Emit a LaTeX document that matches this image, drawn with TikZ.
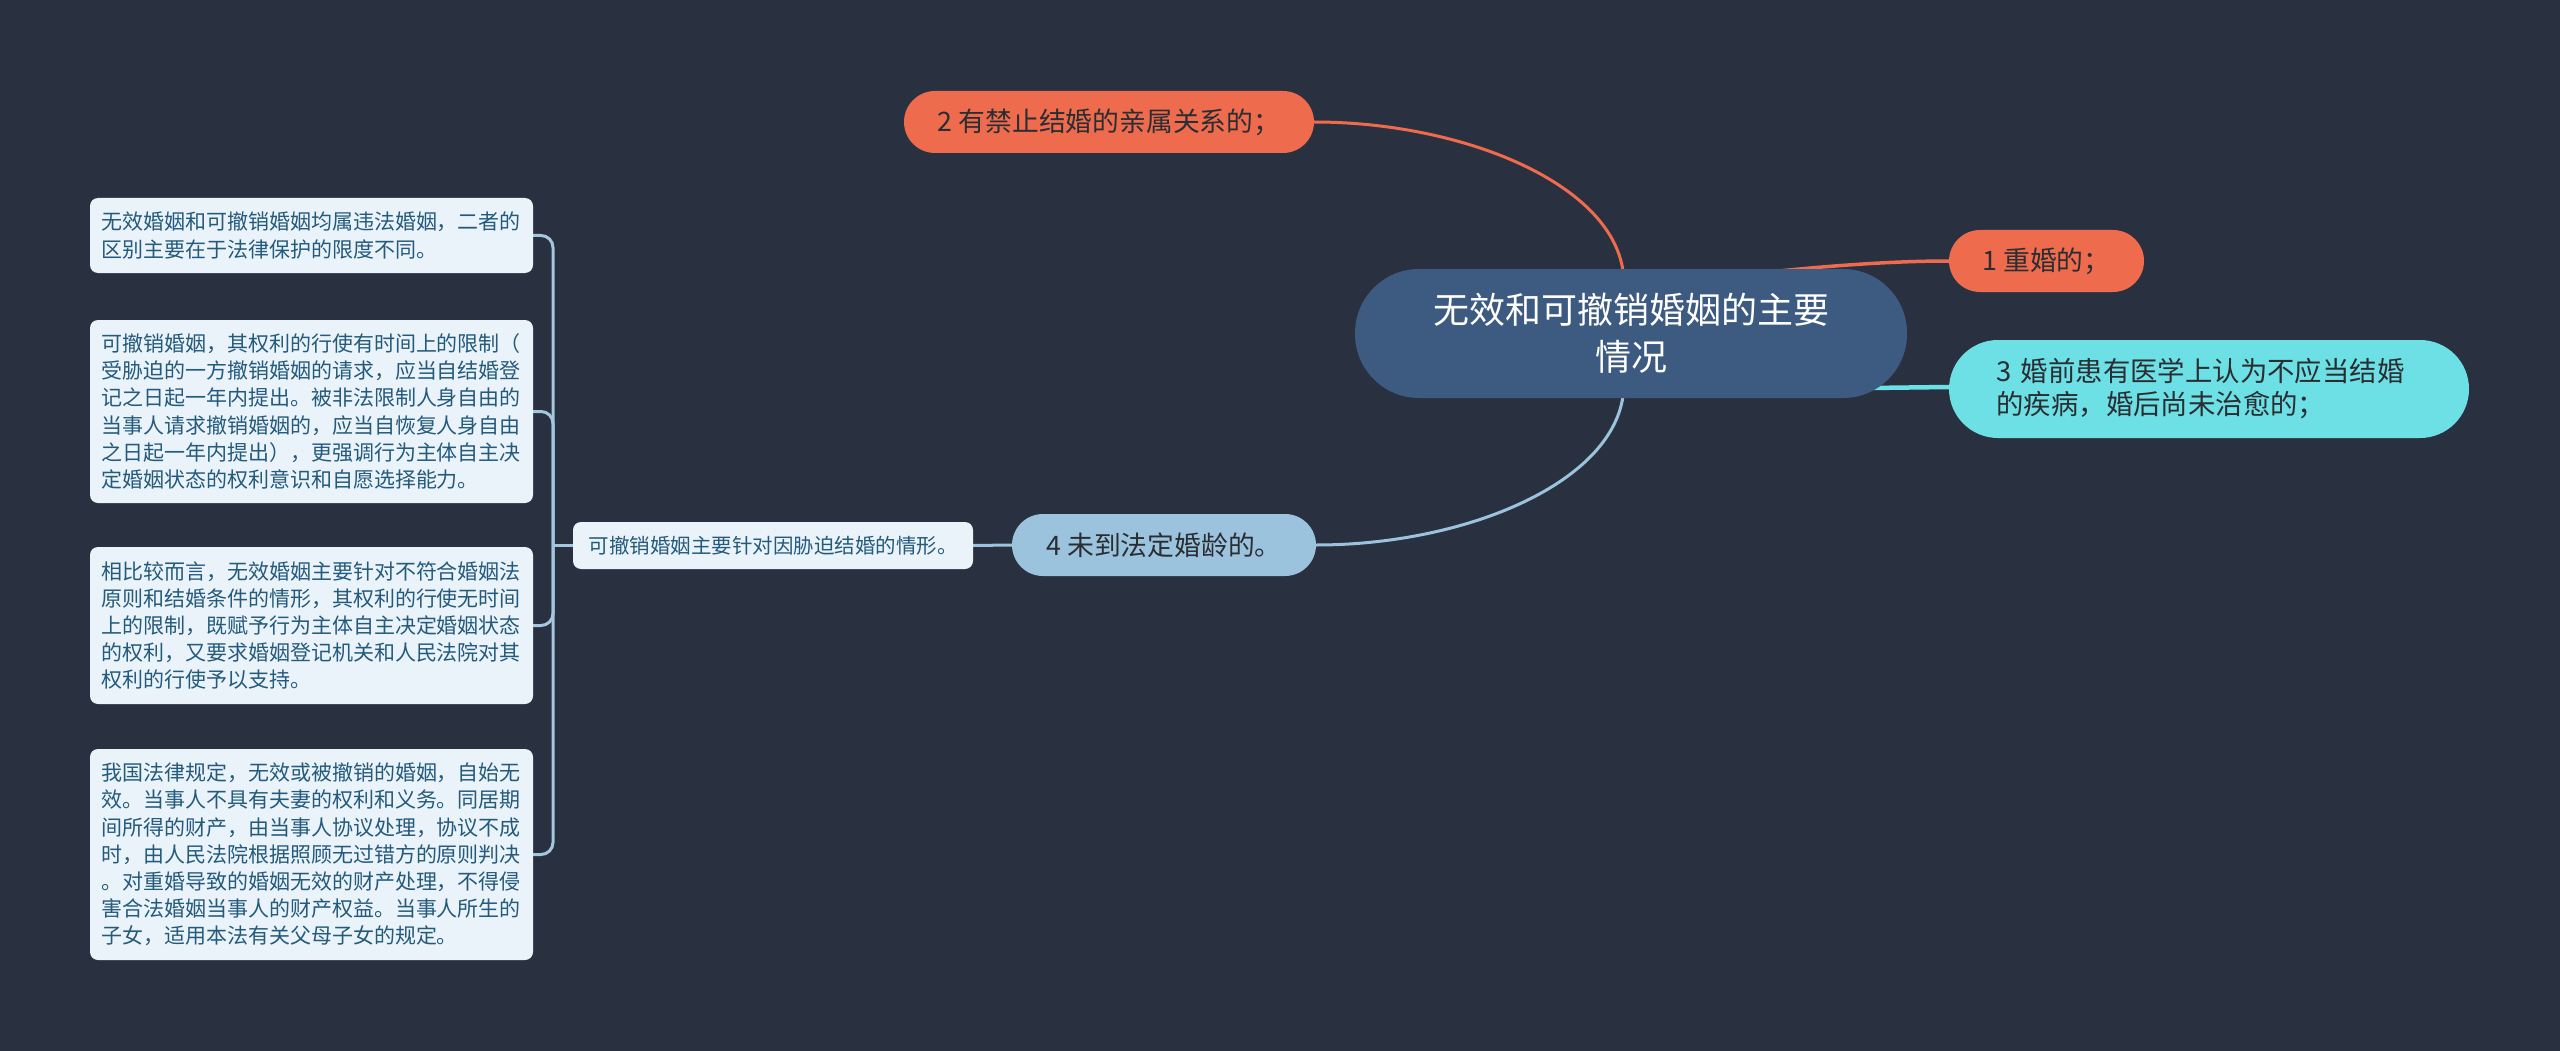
\documentclass[tikz,border=0pt]{standalone}
\usepackage{fontspec}
\setmainfont{Noto Sans CJK SC}
\pgfdeclarelayer{bg}
\pgfsetlayers{bg,main}
\definecolor{bgc}{HTML}{293140}
\definecolor{cnode}{HTML}{3D5A80}
\definecolor{orng}{HTML}{EE6B4D}
\definecolor{cyn}{HTML}{6CE0E4}
\definecolor{lblue}{HTML}{9CC3DD}
\definecolor{boxfill}{HTML}{EAF3F9}
\definecolor{boxtext}{HTML}{245A7C}
\definecolor{brk}{HTML}{A5C6DF}
\definecolor{dtext}{HTML}{2A2E33}
\begin{document}
\begin{tikzpicture}[x=1pt,y=-1pt,
  every node/.style={inner sep=0pt},
  centernode/.style={fill=cnode, text=white, minimum width=552pt, minimum height=129pt,
    rounded corners=64pt, align=center, font=\fontsize{36}{47}\selectfont},
  pill/.style={minimum height=62pt, rounded corners=31pt, text=dtext,
    font=\fontsize{26.8}{33}\selectfont},
  leftbox/.style={fill=boxfill, rounded corners=8pt, text=boxtext, text width=421pt,
    align=left, inner xsep=11pt, font=\fontsize{21}{27.2}\selectfont},
  smallbox/.style={fill=boxfill, rounded corners=8pt, text=boxtext, minimum width=400pt,
    minimum height=47pt, font=\fontsize{20.5}{25}\selectfont},
  orangeline/.style={draw=orng, line width=3pt},
  blueline/.style={draw=lblue, line width=3pt},
  cyanline/.style={draw=cyn, line width=4.5pt},
  bracket/.style={draw=brk, line width=3pt}]
\begin{pgfonlayer}{bg}
\fill[bgc] (0,0) rectangle (2560,1051);
\end{pgfonlayer}
\useasboundingbox (0,0) rectangle (2560,1051);

% nodes
\node[centernode] (c) at (1631,333.5) {无效和可撤销婚姻的主要\\情况};
\node[pill, fill=orng, minimum width=410pt] (n2) at (1109,122) {2 有禁止结婚的亲属关系的；};
\node[pill, fill=orng, minimum width=195pt] (n1) at (2046.5,261) {1 重婚的；};
\node[pill, fill=cyn, minimum width=520pt, minimum height=98pt, rounded corners=49pt, text width=425pt, align=left, font=\fontsize{27.4}{33}\selectfont] (n3) at (2209,389) {3 婚前患有医学上认为不应当结婚\\的疾病，婚后尚未治愈的；};
\node[pill, fill=lblue, minimum width=304pt] (n4) at (1164,545) {4 未到法定婚龄的。};
\node[smallbox] (sb) at (773,545.5) {可撤销婚姻主要针对因胁迫结婚的情形。};

\node[leftbox, minimum height=75pt] (b1) at (311.5,235.5) {无效婚姻和可撤销婚姻均属违法婚姻，二者的\\区别主要在于法律保护的限度不同。};
\node[leftbox, minimum height=183pt] (b2) at (311.5,411.5) {可撤销婚姻，其权利的行使有时间上的限制（\\受胁迫的一方撤销婚姻的请求，应当自结婚登\\记之日起一年内提出。被非法限制人身自由的\\当事人请求撤销婚姻的，应当自恢复人身自由\\之日起一年内提出），更强调行为主体自主决\\定婚姻状态的权利意识和自愿选择能力。};
\node[leftbox, minimum height=157pt] (b3) at (311.5,625.5) {相比较而言，无效婚姻主要针对不符合婚姻法\\原则和结婚条件的情形，其权利的行使无时间\\上的限制，既赋予行为主体自主决定婚姻状态\\的权利，又要求婚姻登记机关和人民法院对其\\权利的行使予以支持。};
\node[leftbox, minimum height=211pt] (b4) at (311.5,854.5) {我国法律规定，无效或被撤销的婚姻，自始无\\效。当事人不具有夫妻的权利和义务。同居期\\间所得的财产，由当事人协议处理，协议不成\\时，由人民法院根据照顾无过错方的原则判决\\。对重婚导致的婚姻无效的财产处理，不得侵\\害合法婚姻当事人的财产权益。当事人所生的\\子女，适用本法有关父母子女的规定。};

\coordinate (tr) at (553,545.5);

\begin{pgfonlayer}{bg}
\draw[orangeline] ([xshift=-8pt,yshift=-2pt]c.north) .. controls +(-13,-89) and +(146,0) .. (n2.east);
\draw[orangeline, line width=3.5pt] ([xshift=150pt,yshift=-2pt]c.north) .. controls +(60,-6) and +(-50,0) .. (n1.west);
\draw[cyanline] (n3.west) ++(0,-2) -- ([yshift=-2pt]n3.west -| c.center);
\draw[blueline] ([xshift=-8pt,yshift=2pt]c.south) .. controls +(-13,89) and +(146,0) .. (n4.east);
\draw[blueline] (n4.west) -- (sb.east);
\draw[bracket] (sb.west) -- (tr);
\draw[bracket, rounded corners=12pt] (b1.east) -| (tr);
\draw[bracket, rounded corners=12pt] (b2.east) -| (tr);
\draw[bracket, rounded corners=12pt] (b3.east) -| (tr);
\draw[bracket, rounded corners=12pt] (b4.east) -| (tr);
\end{pgfonlayer}
\end{tikzpicture}
\end{document}
